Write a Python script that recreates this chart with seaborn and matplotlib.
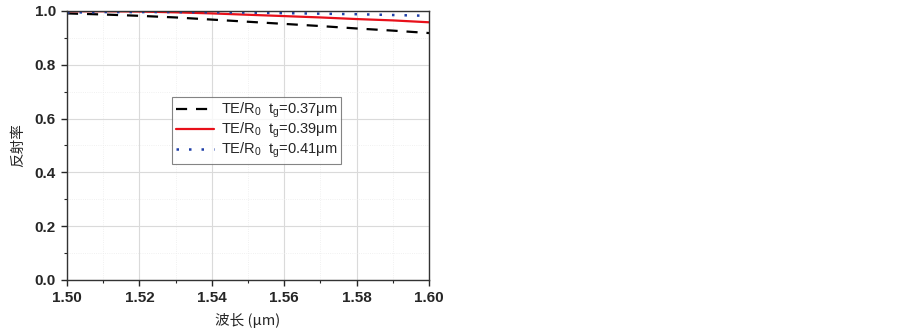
import numpy as np
import pandas as pd
import matplotlib
matplotlib.use("Agg")
import matplotlib.pyplot as plt
import seaborn as sns
from matplotlib.ticker import MultipleLocator

wavelength = [1.50, 1.51, 1.52, 1.53, 1.54, 1.55, 1.56, 1.57, 1.58, 1.59, 1.60]
r_037 = [0.991, 0.987, 0.982, 0.976, 0.968, 0.960, 0.952, 0.944, 0.935, 0.927, 0.918]
r_039 = [0.999, 0.999, 0.998, 0.995, 0.991, 0.986, 0.981, 0.976, 0.970, 0.965, 0.958]
r_041 = [0.994, 0.996, 0.996, 0.996, 0.995, 0.994, 0.992, 0.990, 0.988, 0.985, 0.982]
labels = ["TE/R$_0$  t$_g$=0.37μm", "TE/R$_0$  t$_g$=0.39μm", "TE/R$_0$  t$_g$=0.41μm"]
xticks = [1.50, 1.52, 1.54, 1.56, 1.58, 1.60]
yticks = [0.0, 0.2, 0.4, 0.6, 0.8, 1.0]

sns.set_style("white")
plt.rcParams['font.family'] = ['Liberation Sans', 'Noto Sans CJK SC', 'DejaVu Sans']
plt.rcParams['mathtext.fontset'] = 'custom'
plt.rcParams['mathtext.rm'] = 'Liberation Sans'
plt.rcParams['mathtext.it'] = 'Liberation Sans'

fig = plt.figure(figsize=(9.03, 3.29), dpi=100)
ax = fig.add_axes([0.0742, 0.149, 0.4010, 0.8176])

styles = [dict(color='black', linestyle=(0, (5, 4)), linewidth=1.6),
          dict(color='#e8101a', linestyle='-', linewidth=1.6),
          dict(color='#1f3fa8', linestyle=(0, (1, 4)), linewidth=1.8)]
for series, lab, st in zip([r_037, r_039, r_041], labels, styles):
    df = pd.DataFrame({'x': wavelength, 'y': series})
    sns.lineplot(data=df, x='x', y='y', ax=ax, label=lab, **st)

ax.set_xlim(1.50, 1.60)
ax.set_ylim(0.0, 1.0)
ax.set_xticks(xticks)
ax.set_yticks(yticks)
ax.xaxis.set_minor_locator(MultipleLocator(0.01))
ax.yaxis.set_minor_locator(MultipleLocator(0.1))
ax.set_xticklabels([f"{v:.2f}" for v in xticks], fontweight='bold', fontsize=11)
ax.set_yticklabels([f"{v:.1f}" for v in yticks], fontweight='bold', fontsize=11)
ax.tick_params(which='major', direction='out', length=4, width=1, bottom=True, left=True, pad=4)
ax.tick_params(which='minor', direction='out', length=2, width=0.8, bottom=True, left=True)
ax.grid(which='major', color='#dadada', linewidth=0.8)
ax.grid(which='minor', color='#ececec', linewidth=0.6, linestyle=':')
for sp in ax.spines.values():
    sp.set_color('#333333')
    sp.set_linewidth(1.0)

ax.set_xlabel("波长 (μm)", fontsize=10.5, va='center', family=['Noto Sans CJK SC', 'DejaVu Sans'])
ax.xaxis.set_label_coords(0.5, -0.152)
ax.set_ylabel("反射率", fontsize=10.5, va='center', family=['Noto Sans CJK SC', 'DejaVu Sans'])
ax.yaxis.set_label_coords(-0.135, 0.5)

leg = ax.legend(loc='upper left', bbox_to_anchor=(0.29, 0.68), frameon=True, fancybox=False,
                fontsize=10.5, handlelength=2.6, borderpad=0.25, labelspacing=0.05,
                handletextpad=0.5, borderaxespad=0)
leg.get_frame().set_edgecolor('#666666')
leg.get_frame().set_linewidth(0.8)

fig.savefig("out.png", dpi=100)
